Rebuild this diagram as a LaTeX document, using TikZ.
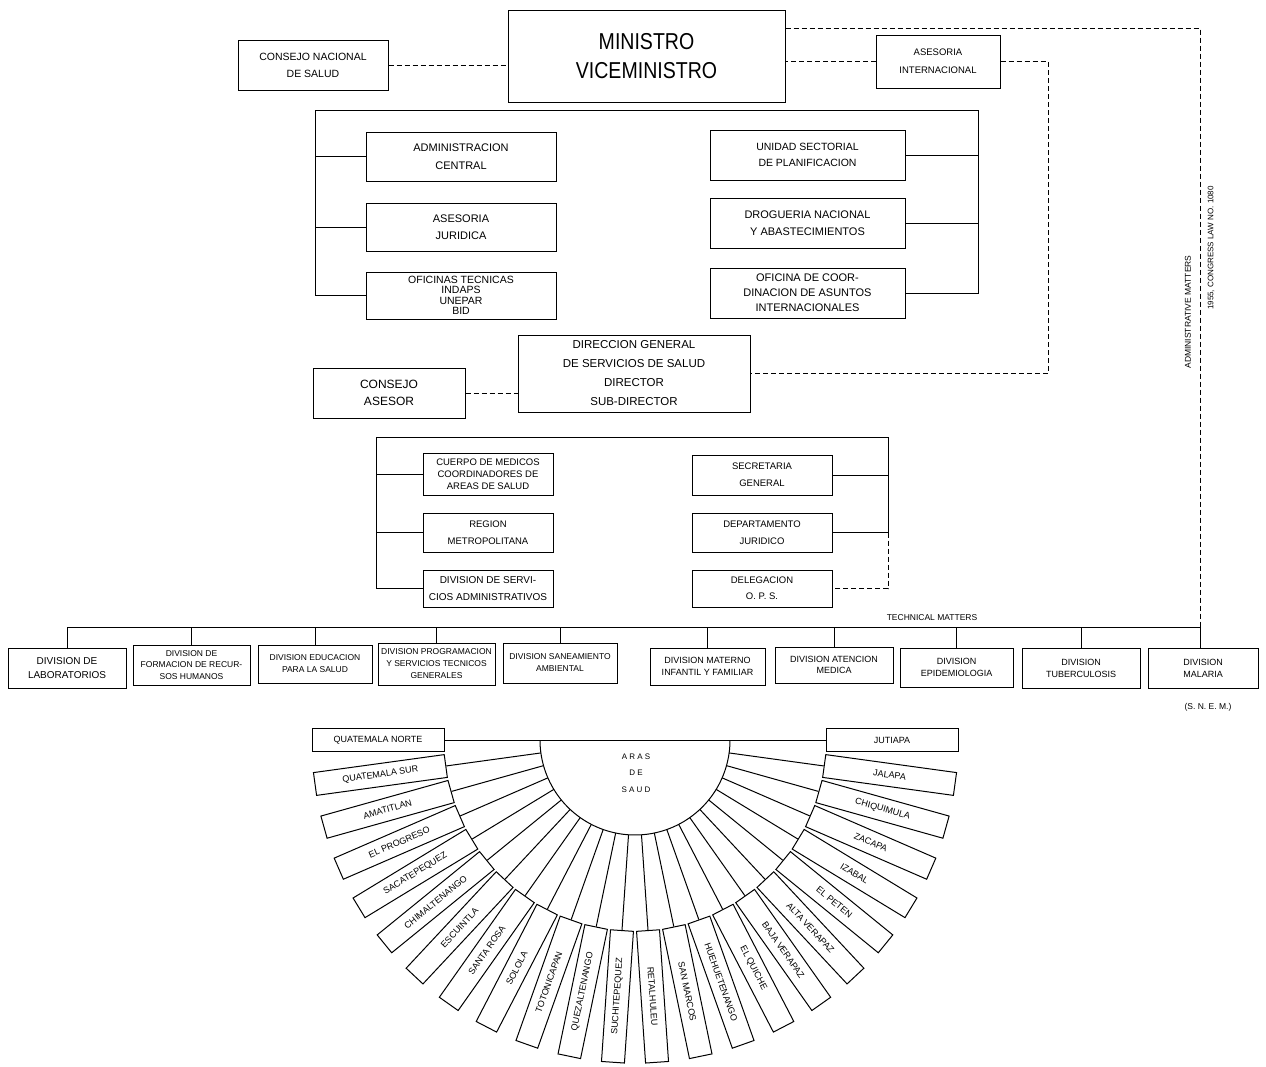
\documentclass[tikz,border=0pt]{standalone}
\usepackage{fontspec}
\setmainfont{Liberation Sans}
\newcommand\bx[8]{\node[box, minimum width={(#4-#2)*1pt}, minimum height={(#5-#3)*1pt}, font={\fontsize{#6}{#7}\selectfont}] (#1) at ({(#2+#4)/2},{(#3+#5)/2}) {#8};}
\tikzset{
  box/.style={draw, line width=1pt, inner sep=0pt, align=center},
  dsh/.style={line width=1pt, dash pattern=on 5pt off 3pt},
  ln/.style={line width=1pt},
  fanbox/.style={draw, line width=1pt, inner sep=0pt, minimum width=132pt, minimum height=23pt, font=\fontsize{9}{10}\selectfont},
  lbl/.style={inner sep=0pt, font=\fontsize{8.5}{10}\selectfont},
}
\begin{document}
\begin{tikzpicture}[x=1pt,y=-1pt]
\fill[white] (0,0) rectangle (1266,1066);
\useasboundingbox (0,0) rectangle (1266,1066);

% top level
\node[draw, line width=1pt, minimum width=277pt, minimum height=92pt] (min) at (646.5,56) {};
\node[inner sep=0pt, xscale=0.85, align=center, font=\fontsize{23}{29}\selectfont] (mint) at (min.center) {MINISTRO\\VICEMINISTRO};
\bx{cns}{238}{40}{388}{90}{10.5}{17}{CONSEJO NACIONAL\\DE SALUD}
\bx{asi}{876}{35}{1000}{88}{9.5}{18}{ASESORIA\\INTERNACIONAL}
\draw[dsh] (cns.east) -- (cns.east -| min.west);
\draw[dsh] (asi.west) -- (asi.west -| min.east);

% first group
\bx{adm}{366}{132}{556}{181}{11}{18}{ADMINISTRACION\\CENTRAL}
\bx{asj}{366}{203}{556}{251}{11}{17}{ASESORIA\\JURIDICA}
\bx{oft}{366}{272}{556}{319}{10.5}{10.5}{OFICINAS TECNICAS\\INDAPS\\UNEPAR\\BID}
\bx{usp}{710}{130}{905}{180}{10.5}{16}{UNIDAD SECTORIAL\\DE PLANIFICACION}
\bx{dro}{710}{198}{905}{248}{11}{17}{DROGUERIA NACIONAL\\Y ABASTECIMIENTOS}
\bx{ofc}{710}{268}{905}{318}{11}{15}{OFICINA DE COOR-\\DINACION DE ASUNTOS\\INTERNACIONALES}
\coordinate (b1L) at (315,110);
\coordinate (b1R) at (978,110);
\draw[ln] (oft.west) -- (oft.west -| b1L) -- (b1L) -- (b1R) -- (b1R |- ofc.east) -- (ofc.east);
\draw[ln] (adm.west) -- (adm.west -| b1L);
\draw[ln] (asj.west) -- (asj.west -| b1L);
\draw[ln] (usp.east) -- (usp.east -| b1R);
\draw[ln] (dro.east) -- (dro.east -| b1R);

% direccion
\bx{dir}{518}{335}{750}{412}{11.5}{19}{DIRECCION GENERAL\\DE SERVICIOS DE SALUD\\DIRECTOR\\SUB-DIRECTOR}
\bx{cas}{313}{368}{465}{418}{12}{17}{CONSEJO\\ASESOR}
\draw[dsh] (cas.east) -- (cas.east -| dir.west);
\coordinate (r2) at (1048,0);
\draw[dsh] (asi.east) -| (r2 |- dir.east) -- (dir.east);

% second group
\bx{cue}{423}{453}{553}{495}{9.5}{12}{CUERPO DE MEDICOS\\COORDINADORES DE\\AREAS DE SALUD}
\bx{reg}{423}{513}{553}{552}{9.5}{17}{REGION\\METROPOLITANA}
\bx{dsa}{423}{570}{553}{607}{10}{17}{DIVISION DE SERVI-\\CIOS ADMINISTRATIVOS}
\bx{sec}{692}{455}{832}{495}{9.5}{17}{SECRETARIA\\GENERAL}
\bx{dep}{692}{513}{832}{552}{9.5}{17}{DEPARTAMENTO\\JURIDICO}
\bx{del}{692}{570}{832}{607}{9.5}{16}{DELEGACION\\O. P. S.}
\coordinate (b2L) at (376,437);
\coordinate (b2R) at (888,437);
\draw[ln] (dsa.west) -- (dsa.west -| b2L) -- (b2L) -- (b2R) -- (b2R |- dep.east) -- (dep.east);
\draw[dsh] (b2R |- dep.east) -- (b2R |- del.east) -- (del.east);
\draw[ln] (cue.west) -- (cue.west -| b2L);
\draw[ln] (reg.west) -- (reg.west -| b2L);
\draw[ln] (sec.east) -- (sec.east -| b2R);

% divisions
\bx{d1}{8}{648}{126}{688}{10}{14}{DIVISION DE\\LABORATORIOS}
\bx{d2}{133}{645}{250}{685}{8.5}{11.5}{DIVISION DE\\FORMACION DE RECUR-\\SOS HUMANOS}
\bx{d3}{258}{645}{372}{683}{8.5}{12}{DIVISION EDUCACION\\PARA LA SALUD}
\bx{d4}{378}{643}{495}{685}{8.5}{12}{DIVISION PROGRAMACION\\Y SERVICIOS TECNICOS\\GENERALES}
\bx{d5}{503}{643}{617}{683}{8.5}{12}{DIVISION SANEAMIENTO\\AMBIENTAL}
\bx{d6}{650}{648}{765}{685}{9}{12}{DIVISION MATERNO\\INFANTIL Y FAMILIAR}
\bx{d7}{775}{647}{893}{683}{9}{11}{DIVISION ATENCION\\MEDICA}
\bx{d8}{900}{648}{1013}{687}{9}{12}{DIVISION\\EPIDEMIOLOGIA}
\bx{d9}{1022}{648}{1140}{688}{9}{12}{DIVISION\\TUBERCULOSIS}
\bx{d10}{1148}{648}{1258}{688}{9}{12}{DIVISION\\MALARIA}
\node[lbl] (snem) at (1208,707) {(S. N. E. M.)};
\coordinate (busL) at (d1.north |- 0,627);
\coordinate (busR) at (1200,627);
\draw[ln] (busL) -- (busR);
\foreach \d in {d1,d2,d3,d4,d5,d6,d7,d8,d9}{\draw[ln] (\d.north |- busL) -- (\d.north);}
\draw[ln] (busR) -- (busR |- d10.north);
\node[lbl] (tech) at (932,618) {TECHNICAL MATTERS};

% administrative matters
\coordinate (adm1) at (1200,28);
\draw[dsh] (min.east |- adm1) -- (adm1) -- (busR);
\node[lbl, rotate=90] (admt) at (1188,312) {ADMINISTRATIVE MATTERS};
\node[lbl, rotate=90, font=\fontsize{8}{9}\selectfont] (law) at (1211,248) {1955, CONGRESS LAW NO. 1080};

% fan of health areas
\draw[ln] plot[domain=0:180, samples=90] ({635+95*cos(\x)},{740+95*sin(\x)});
\node[lbl, align=center, font=\fontsize{8}{16.5}\selectfont] (aras) at (636,773) {A R A S\\D E\\S A U D};
\foreach \nm [count=\i from 0] in {QUATEMALA NORTE, QUATEMALA SUR, AMATITLAN, EL PROGRESO, SACATEPEQUEZ, CHIMALTENANGO, ESCUINTLA, SANTA ROSA, SOLOLA, TOTONICAPAN, QUEZALTENANGO, SUCHITEPEQUEZ, RETALHULEU, SAN MARCOS, HUEHUETENANGO, EL QUICHE, BAJA VERAPAZ, ALTA VERAPAZ, EL PETEN, IZABAL, ZACAPA, CHIQUIMULA, JALAPA, JUTIAPA}{
  \pgfmathsetmacro\ph{\i*180/23}
  \ifnum\i<12 \pgfmathsetmacro\rot{\ph}\def\anc{east}\else\pgfmathsetmacro\rot{\ph-180}\def\anc{west}\fi
  \node[fanbox, rotate=\rot] (f\i) at ({635-257*cos(\ph)},{740+257*sin(\ph)}) {\nm};
  \coordinate (a\i) at ({635-95*cos(\ph)},{740+95*sin(\ph)});
  \draw[ln] (a\i) -- (f\i.\anc);
}
\draw[ln] (f0.east) -- (f23.west);
\end{tikzpicture}
\end{document}
